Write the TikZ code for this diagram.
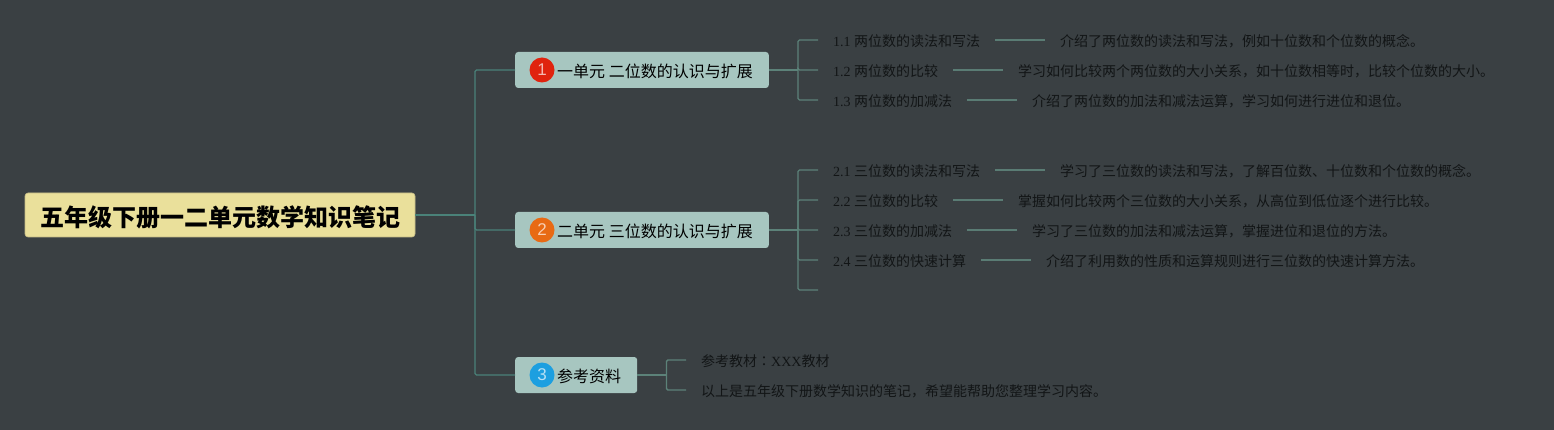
\documentclass[tikz,border=0pt]{standalone}
\usepackage{fontspec}
\setmainfont{Noto Sans CJK SC}
\newfontfamily\latnfont{Liberation Serif}
\newfontfamily\iconfont{Liberation Sans}
\newfontfamily\colonfont{Noto Sans CJK TC}
\usepackage{xcolor}
\usetikzlibrary{calc,positioning}
\definecolor{boardgray}{HTML}{3A4043}
\definecolor{rootyellow}{HTML}{EAE09B}
\definecolor{rootedge}{HTML}{C4BA85}
\definecolor{topicgreen}{HTML}{A7C6C0}
\definecolor{rootline}{HTML}{4A8279}
\definecolor{leafline}{HTML}{5C8279}
\definecolor{noteline}{HTML}{5A7C74}
\definecolor{inkdark}{HTML}{121516}
\definecolor{iconred}{HTML}{E0230E}
\definecolor{iconorange}{HTML}{E86A14}
\definecolor{iconblue}{HTML}{1D9FE0}
\tikzset{
  rootbox/.style={draw=rootedge,line width=0.6pt,fill=rootyellow,rounded corners=3pt,inner xsep=15pt,inner ysep=0pt,minimum height=44pt,text height=24pt,text depth=1.8pt,text=black,font=\fontsize{24}{28}\selectfont\bfseries},
  topicbox/.style={fill=topicgreen,rounded corners=3pt,inner xsep=16pt,inner ysep=0pt,minimum height=36pt,text height=16pt,text depth=1.8pt,anchor=west,text=black,font=\fontsize{16}{20}\selectfont},
  iconball/.style={circle,inner sep=0pt,minimum size=25pt,text=white!68!#1,fill=#1,font=\iconfont\fontsize{17}{20}\selectfont},
  leafnode/.style={inner xsep=15pt,inner ysep=0pt,minimum height=20pt,text height=14pt,text depth=1.4pt,anchor=west,text=inkdark,font=\fontsize{14}{18}\selectfont},
  rootlink/.style={rootline,line width=1.3pt,rounded corners=1.5pt},
  leaflink/.style={leafline,line width=1.3pt,rounded corners=1.5pt},
  notelink/.style={noteline,line width=1.3pt}
}
\begin{document}
\begin{tikzpicture}[x=1pt,y=-1pt]
\useasboundingbox (0,0) rectangle (1554,430);
\fill[boardgray] (0,0) rectangle (1554,430);
% root and the trunk
\node[rootbox] (root) at (220,215) {五年级下册一二单元数学知识笔记};
\coordinate (trunk) at (475,215);
\draw[rootlink] (root.east) -- (trunk);
% three topics, each with its icon
\foreach \nam/\y/\col/\num/\lab in {1/70/iconred/1/一单元 二位数的认识与扩展, 2/230/iconorange/2/二单元 三位数的认识与扩展, 3/375/iconblue/3/参考资料}{
  \node[topicbox] (topic\nam) at (515,\y) {\hspace*{26pt}\lab};
  \node[iconball=\col] (icon\nam) at (542,\y) {\num};
  \draw[rootlink] (trunk) |- (topic\nam.west);
}
\coordinate (bus1) at ($(topic1.east)+(29,0)$);
\coordinate (bus2) at ($(topic2.east)+(29,0)$);
\coordinate (bus3) at ($(topic3.east)+(29,0)$);
\draw[leaflink] (topic1.east) -- (bus1);
\draw[leaflink] (topic2.east) -- (bus2);
\draw[leaflink] (topic3.east) -- (bus3);
% leaves with a note behind them
\foreach \nam/\bus/\y/\num/\lab/\txt in {
  a/1/40/1.1/两位数的读法和写法/介绍了两位数的读法和写法，例如十位数和个位数的概念。,
  b/1/70/1.2/两位数的比较/学习如何比较两个两位数的大小关系，如十位数相等时，比较个位数的大小。,
  c/1/100/1.3/两位数的加减法/介绍了两位数的加法和减法运算，学习如何进行进位和退位。,
  d/2/170/2.1/三位数的读法和写法/学习了三位数的读法和写法，了解百位数、十位数和个位数的概念。,
  e/2/200/2.2/三位数的比较/掌握如何比较两个三位数的大小关系，从高位到低位逐个进行比较。,
  f/2/230/2.3/三位数的加减法/学习了三位数的加法和减法运算，掌握进位和退位的方法。,
  g/2/260/2.4/三位数的快速计算/介绍了利用数的性质和运算规则进行三位数的快速计算方法。}{
  \node[leafnode] (leaf\nam) at (818,\y) {{\latnfont\num{} }\lab};
  \node[leafnode,right=49.5pt of leaf\nam] (note\nam) {\txt};
  \draw[leaflink] (bus\bus) |- (leaf\nam.west);
  \draw[notelink] (leaf\nam.east) -- (note\nam.west);
}
% the empty leaf under 2.4
\coordinate (leafh) at (818,290);
\draw[leaflink] (bus2) |- (leafh);
% references
\node[leafnode] (leafi) at (686,360) {参考教材{\colonfont ：}{\latnfont XXX}教材};
\node[leafnode] (leafj) at (686,390) {以上是五年级下册数学知识的笔记，希望能帮助您整理学习内容。};
\draw[leaflink] (bus3) |- (leafi.west);
\draw[leaflink] (bus3) |- (leafj.west);
\end{tikzpicture}
\end{document}
